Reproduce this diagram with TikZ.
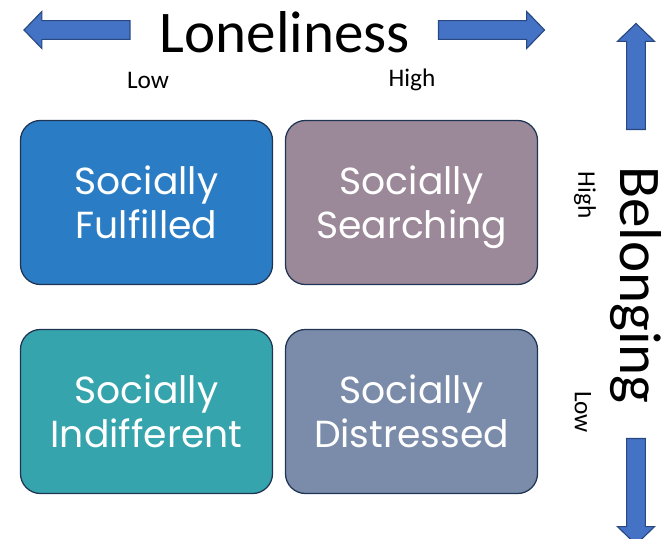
\documentclass[tikz,border=0pt]{standalone}
\usepackage{fontspec}
\setmainfont{Carlito}
\newfontfamily\quadfont{Poppins}
\usepackage{tikz}
\usetikzlibrary{shapes.arrows, positioning}
\definecolor{fulfilledblue}{RGB}{42,125,196}
\definecolor{searchingmauve}{RGB}{155,136,152}
\definecolor{indifferentteal}{RGB}{53,164,172}
\definecolor{distressedslate}{RGB}{122,140,170}
\definecolor{boxline}{RGB}{32,52,84}
\definecolor{arrowblue}{RGB}{68,114,196}
\definecolor{arrowline}{RGB}{40,72,130}

\begin{document}
\begin{tikzpicture}[
    x=0.025cm, y=-0.025cm,
    quadrant/.style={rectangle, rounded corners=0.5cm, draw=boxline, line width=0.9pt,
        minimum width=6.3cm, minimum height=4.1cm, align=center, text=white,
        font=\quadfont\fontsize{26.8}{31.5}\selectfont},
    axisarrow/.style={single arrow, draw=arrowline, fill=arrowblue, line width=0.8pt,
        inner xsep=0pt, inner ysep=0.22cm, single arrow head extend=0.23cm,
        single arrow tip angle=92, minimum height=2.65cm},
    axistitle/.style={font=\fontsize{42}{50}\selectfont},
    level/.style={font=\fontsize{18}{21}\selectfont}
]
\useasboundingbox (0,0) rectangle (666,539);

% Quadrants (smash keeps descenders from lifting the text)
\node[quadrant, fill=fulfilledblue] (fulfilled) at (146.5,202.5) {Socially\\\smash{Fulfilled}};
\node[quadrant, fill=searchingmauve] (searching) at (411.5,202.5) {Socially\\\smash{Searching}};
\node[quadrant, fill=indifferentteal] (indifferent) at (146.5,411.5) {Socially\\\smash{Indifferent}};
\node[quadrant, fill=distressedslate] (distressed) at (411.5,411.5) {Socially\\\smash{Distressed}};

% Loneliness axis
\node[axistitle] (loneliness) at (285,32) {Loneliness};
\node[axisarrow, rotate=180] (lonelyleft) at (81.5,30) {};
\node[axisarrow] (lonelyright) at (487,30) {};
\node[level] (lonelylow) at (148,80) {Low};
\node[level] (lonelyhigh) at (412,80) {High};

% Belonging axis
\node[axistitle, rotate=-90] (belonging) at (636,285) {Belonging};
\node[axisarrow, rotate=90] (belongup) at (636,81) {};
\node[axisarrow, rotate=-90] (belongdown) at (636,487) {};
\node[level, rotate=-90] (belonghigh) at (585,195) {High};
\node[level, rotate=-90] (belonglow) at (583,412) {Low};

\end{tikzpicture}
\end{document}
